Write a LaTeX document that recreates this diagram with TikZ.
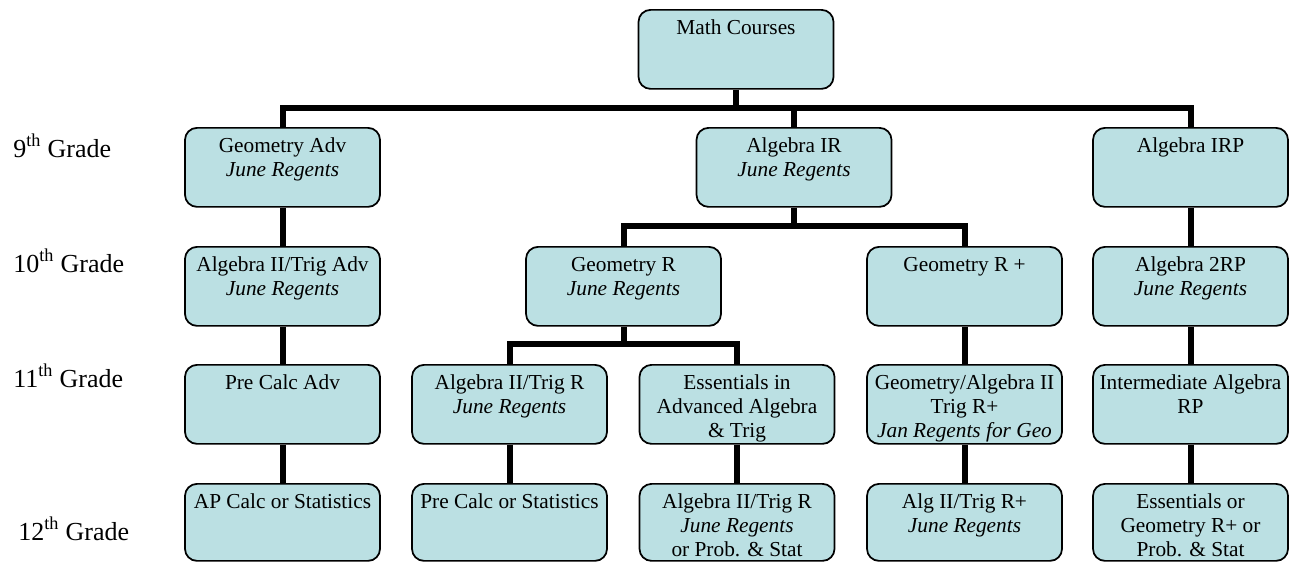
\documentclass[tikz,border=0pt]{standalone}
\usepackage{fontspec}
\setmainfont{Liberation Serif}
\usetikzlibrary{backgrounds}
\definecolor{boxfill}{RGB}{187,224,227}

% course box content: fixed-size top-aligned text block
\newcommand{\crs}[2][59.25pt]{\parbox[c][#1][t]{146.25pt}{\centering
  \fontsize{16pt}{18pt}\selectfont\rule{0pt}{18.4pt}#2}}

\tikzset{
  course/.style={draw=black, line width=1.3pt, fill=boxfill,
    rounded corners=9pt, inner sep=0pt, anchor=north},
  conn/.style={draw=black, line width=4.5pt},
  grade/.style={inner sep=0pt, anchor=base west,
    font=\fontsize{19.5pt}{23pt}\selectfont}
}

\begin{document}
\begin{tikzpicture}[x=0.75pt, y=-0.75pt]
\useasboundingbox (0,0) rectangle (1294,561);

% grade labels
\node[grade] (g9)  at (13,157) {9\textsuperscript{th} Grade};
\node[grade] (g10) at (13,272) {10\textsuperscript{th} Grade};
\node[grade] (g11) at (13,387) {11\textsuperscript{th} Grade};
\node[grade] (g12) at (18,540) {12\textsuperscript{th} Grade};

% root
\node[course] (math) at (736,9) {\crs{Math Courses}};

% 9th grade
\node[course] (geoadv) at (282.5,127) {\crs{Geometry Adv\\\textit{June Regents}}};
\node[course] (algir)  at (794,127)   {\crs{Algebra IR\\\textit{June Regents}}};
\node[course] (algirp) at (1190.5,127){\crs{Algebra IRP}};

% 10th grade
\node[course] (alg2adv) at (282.5,246) {\crs{Algebra II/Trig Adv\\\textit{June Regents}}};
\node[course] (geor)    at (623.5,246) {\crs{Geometry R\\\textit{June Regents}}};
\node[course] (georp)   at (964.5,246) {\crs{Geometry R +}};
\node[course] (alg2rp)  at (1190.5,246){\crs{Algebra 2RP\\\textit{June Regents}}};

% 11th grade
\node[course] (precalcadv) at (282.5,364) {\crs{Pre Calc Adv}};
\node[course] (alg2r)      at (509.5,364) {\crs{Algebra II/Trig R\\\textit{June Regents}}};
\node[course] (ess)        at (737,364)   {\crs{Essentials in\\Advanced Algebra\\\& Trig}};
\node[course] (geoalg)     at (964.5,364) {\crs{Geometry/Algebra II\\Trig R+\\\textit{Jan Regents for Geo}}};
\node[course] (interm)     at (1190.5,364){\crs{Intermediate Algebra\\RP}};

% 12th grade
\node[course] (apcalc)      at (282.5,483) {\crs[57.75pt]{AP Calc or Statistics}};
\node[course] (precalcstat) at (509.5,483) {\crs[57.75pt]{Pre Calc or Statistics}};
\node[course] (alg2rprob)   at (737,483)   {\crs[57.75pt]{Algebra II/Trig R\\\textit{June Regents}\\or Prob. \& Stat}};
\node[course] (alg2rplus)   at (964.5,483) {\crs[57.75pt]{Alg II/Trig R+\\\textit{June Regents}}};
\node[course] (essor)       at (1190.5,483){\crs[57.75pt]{Essentials or\\Geometry R+ or\\Prob. \& Stat}};

% bar levels
\coordinate (lv1) at (0,108);
\coordinate (lv2) at (0,226);
\coordinate (lv3) at (0,344);

\begin{pgfonlayer}{background}
  % root to 9th grade
  \draw[conn] (math.south) -- (math.south |- lv1);
  \draw[conn] (geoadv.north) |- (algirp.north |- lv1) -- (algirp.north);
  \draw[conn] (algir.north |- lv1) -- (algir.north);
  % Algebra IR split
  \draw[conn] (algir.south) -- (algir.south |- lv2);
  \draw[conn] (geor.north) |- (georp.north |- lv2) -- (georp.north);
  % Geometry R split
  \draw[conn] (geor.south) -- (geor.south |- lv3);
  \draw[conn] (alg2r.north) |- (ess.north |- lv3) -- (ess.north);
  % straight links
  \draw[conn] (geoadv.south) -- (alg2adv.north);
  \draw[conn] (alg2adv.south) -- (precalcadv.north);
  \draw[conn] (precalcadv.south) -- (apcalc.north);
  \draw[conn] (alg2r.south) -- (precalcstat.north);
  \draw[conn] (ess.south) -- (alg2rprob.north);
  \draw[conn] (georp.south) -- (geoalg.north);
  \draw[conn] (geoalg.south) -- (alg2rplus.north);
  \draw[conn] (algirp.south) -- (alg2rp.north);
  \draw[conn] (alg2rp.south) -- (interm.north);
  \draw[conn] (interm.south) -- (essor.north);
\end{pgfonlayer}
\end{tikzpicture}
\end{document}
